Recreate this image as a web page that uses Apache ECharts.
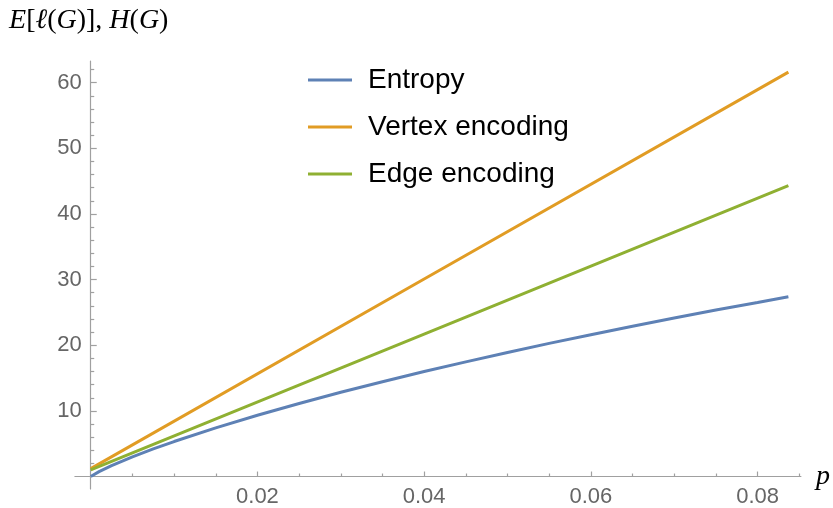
<!DOCTYPE html>
<html>
<head>
<meta charset="utf-8">
<script src="https://cdn.jsdelivr.net/npm/echarts@6/dist/echarts.min.js"></script>
<style>
  html, body { margin: 0; padding: 0; background: #ffffff; }
  #chart { width: 833px; height: 508px; }
</style>
</head>
<body>
<div id="chart"></div>
<script>
// Expected code length E[l(G)] and entropy H(G) of a random graph vs edge probability p
const seriesNames = ['Entropy', 'Vertex encoding', 'Edge encoding'];

const entropyP = [0, 0.001, 0.0025, 0.005, 0.0075, 0.01, 0.015, 0.02, 0.025, 0.03, 0.035,
                  0.04, 0.045, 0.05, 0.055, 0.06, 0.065, 0.07, 0.075, 0.08, 0.0837];
const entropyBits = [0, 0.75, 1.66, 3.0, 4.2, 5.33, 7.42, 9.33, 11.13, 12.83, 14.45,
                     16.0, 17.47, 18.9, 20.28, 21.6, 22.9, 24.15, 25.37, 26.5, 27.4];

const vertexP = [0, 0.04, 0.0837];
const vertexBits = [1.2, 30.1, 61.6];

const edgeP = [0, 0.04, 0.0837];
const edgeBits = [1.0, 21.7, 44.3];

const xTickValues = [0.02, 0.04, 0.06, 0.08];
const xTickLabels = ['0.02', '0.04', '0.06', '0.08'];
const yTickValues = [10, 20, 30, 40, 50, 60];
const yTickLabels = ['10', '20', '30', '40', '50', '60'];

const colors = ['#5E81B5', '#E19C24', '#8FB032'];

const X_MIN = -0.0019, X_MAX = 0.0852;
const Y_MIN = -1.9, Y_MAX = 63.3;

// minor ticks: every 0.005 on p, every 2 on the value axis
const xMinor = [];
for (let i = 1; i <= 17; i++) { if (i % 4 !== 0) xMinor.push(+(i * 0.005).toFixed(3)); }
const yMinor = [];
for (let v = 2; v <= 62; v += 2) { if (v % 10 !== 0) yMinor.push(v); }

const zip = (xs, ys) => xs.map((x, i) => [x, ys[i]]);

const axisGray = '#a0a0a0';
const labelGray = '#666666';
const sans = '"Liberation Sans", Arial, Helvetica, sans-serif';
const serif = '"Liberation Serif", "Times New Roman", serif';

const gridBox = { left: 74.9, top: 61, width: 726, height: 428, containLabel: false, outerBoundsMode: 'none' };

const chart = echarts.init(document.getElementById('chart'), null, { renderer: 'canvas' });

chart.setOption({
  animation: false,
  backgroundColor: '#ffffff',
  color: colors,
  grid: [Object.assign({}, gridBox), Object.assign({}, gridBox)],
  legend: {
    data: seriesNames,
    orient: 'vertical',
    left: 308,
    top: 66,
    padding: 0,
    icon: 'rect',
    itemWidth: 44,
    itemHeight: 3,
    itemGap: 19,
    textStyle: {
      fontFamily: sans,
      fontSize: 28,
      lineHeight: 28,
      color: '#000000',
      padding: [0, 0, 0, 11]
    }
  },
  xAxis: [
    {
      gridIndex: 0,
      type: 'value',
      min: X_MIN,
      max: X_MAX,
      name: 'p',
      nameLocation: 'end',
      nameGap: 15,
      nameTextStyle: { fontFamily: serif, fontStyle: 'italic', fontSize: 28, color: '#000000' },
      axisLine: { show: true, onZero: true, lineStyle: { color: axisGray, width: 1.2 } },
      axisTick: { show: true, inside: true, length: 5, customValues: xTickValues, lineStyle: { color: axisGray, width: 1.2 } },
      axisLabel: {
        show: true,
        customValues: xTickValues,
        margin: -3.3,
        fontFamily: sans,
        fontSize: 22,
        color: labelGray,
        formatter: (v) => xTickLabels[xTickValues.findIndex(t => Math.abs(t - v) < 1e-9)]
      },
      splitLine: { show: false }
    },
    {
      gridIndex: 1,
      type: 'value',
      min: X_MIN,
      max: X_MAX,
      axisLine: { show: false, onZero: true },
      axisTick: { show: true, inside: true, length: 3, customValues: xMinor, lineStyle: { color: axisGray, width: 1.2 } },
      axisLabel: { show: false },
      splitLine: { show: false }
    }
  ],
  yAxis: [
    {
      gridIndex: 0,
      type: 'value',
      min: Y_MIN,
      max: Y_MAX,
      name: '{i|E}{r|[}{i|ℓ}{r|(}{i|G}{r|)], }{i|H}{r|(}{i|G}{r|)}',
      nameLocation: 'end',
      nameGap: 26,
      nameTextStyle: {
        color: '#000000',
        padding: [0, 4, 0, 0],
        rich: {
          i: { fontFamily: serif, fontStyle: 'italic', fontSize: 28, color: '#000000' },
          r: { fontFamily: serif, fontSize: 28, color: '#000000' }
        }
      },
      axisLine: { show: true, onZero: true, lineStyle: { color: axisGray, width: 1.2 } },
      axisTick: { show: true, inside: true, length: 6, customValues: yTickValues, lineStyle: { color: axisGray, width: 1.2 } },
      axisLabel: {
        show: true,
        customValues: yTickValues,
        margin: -6.8,
        fontFamily: sans,
        fontSize: 22,
        color: labelGray,
        formatter: (v) => yTickLabels[yTickValues.indexOf(v)]
      },
      splitLine: { show: false }
    },
    {
      gridIndex: 1,
      type: 'value',
      min: Y_MIN,
      max: Y_MAX,
      axisLine: { show: false, onZero: true },
      axisTick: { show: true, inside: true, length: 3.5, customValues: yMinor, lineStyle: { color: axisGray, width: 1.2 } },
      axisLabel: { show: false },
      splitLine: { show: false }
    }
  ],
  series: [
    {
      name: seriesNames[0], type: 'line', xAxisIndex: 0, yAxisIndex: 0,
      data: zip(entropyP, entropyBits), showSymbol: false, symbol: 'none',
      lineStyle: { width: 3, color: colors[0] }, z: 3
    },
    {
      name: seriesNames[1], type: 'line', xAxisIndex: 0, yAxisIndex: 0,
      data: zip(vertexP, vertexBits), showSymbol: false, symbol: 'none',
      lineStyle: { width: 3, color: colors[1] }, z: 4
    },
    {
      name: seriesNames[2], type: 'line', xAxisIndex: 0, yAxisIndex: 0,
      data: zip(edgeP, edgeBits), showSymbol: false, symbol: 'none',
      lineStyle: { width: 3, color: colors[2] }, z: 5
    }
  ]
});
</script>
</body>
</html>
